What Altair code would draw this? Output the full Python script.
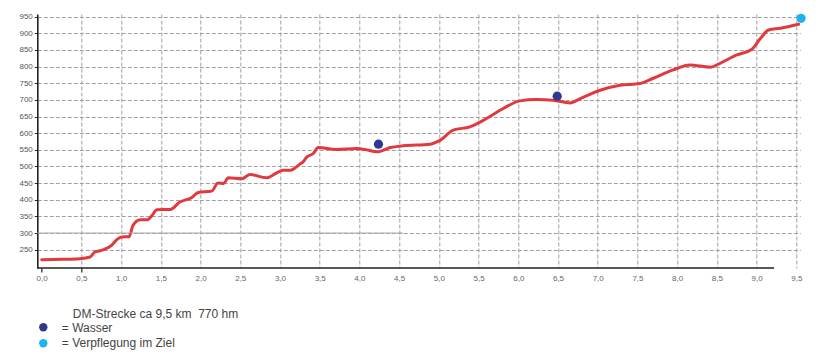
import altair as alt
import pandas as pd

# ---- data ----
km = [0.00, 0.25, 0.48, 0.61, 0.67, 0.72, 0.78, 0.88, 0.95, 1.01, 1.10, 1.15, 1.24, 1.33,
      1.38, 1.45, 1.62, 1.74, 1.89, 1.97, 2.14, 2.22, 2.29, 2.35, 2.52, 2.62, 2.83, 2.96,
      3.04, 3.13, 3.25, 3.29, 3.34, 3.42, 3.48, 3.71, 3.97, 4.07, 4.22, 4.39, 4.55, 4.89,
      5.02, 5.18, 5.39, 5.60, 5.81, 6.02, 6.23, 6.44, 6.65, 6.78, 7.03, 7.28, 7.53, 7.70,
      7.95, 8.16, 8.42, 8.54, 8.75, 8.94, 9.05, 9.15, 9.30, 9.53]
elev = [220, 221, 223, 228, 243, 246, 250, 263, 281, 288, 289, 323, 340, 340,
        350, 370, 371, 393, 407, 422, 426, 450, 449, 466, 463, 476, 466, 481,
        489, 489, 507, 514, 529, 539, 557, 551, 554, 551, 544, 557, 562, 567,
        579, 609, 619, 644, 674, 697, 701, 699, 691, 704, 729, 744, 749, 765,
        790, 805, 798, 810, 835, 852, 885, 910, 915, 927]

water_km = [4.24, 6.49]
water_elev = [567, 711]
finish_km = [9.56]
finish_elev = [945]

x_ticks = [0, 0.5, 1, 1.5, 2, 2.5, 3, 3.5, 4, 4.5, 5, 5.5, 6, 6.5, 7, 7.5, 8, 8.5, 9, 9.5]
y_ticks = [250, 300, 350, 400, 450, 500, 550, 600, 650, 700, 750, 800, 850, 900, 950]

ref_line_elev = [300]
ref_line_from = [-0.055]
ref_line_to = [4.55]
x_axis_from = [-0.055]
x_axis_end = [9.22]

legend_title = ["DM-Strecke ca 9,5 km\u00a0 770 hm"]
legend_water = ["= Wasser"]
legend_finish = ["= Verpflegung im Ziel"]

# ---- styling ----
RED = "#E0393E"
DARKBLUE = "#2E3A8F"
CYAN = "#1BB4EE"
FONT = "Liberation Sans"
W, H = 763, 254

xscale = alt.Scale(domain=[-0.055, 9.55], nice=False, zero=False)
yscale = alt.Scale(domain=[195, 958], nice=False, zero=False)

profile = pd.DataFrame({"km": km, "elev": elev})

xaxis = alt.Axis(
    values=x_ticks, tickCount=40, title=None, grid=True, gridColor="#a0a0a0", gridDash=[4, 2],
    gridWidth=1,
    gridOpacity={"condition": {"test": "datum.value == 0", "value": 0}, "value": 1},
    domain=False, tickColor="#222", tickSize=4, tickWidth=1.2,
    tickOpacity={"condition": {"test": "datum.value <= 0.5", "value": 1}, "value": 0},
    labelExpr="replace(format(datum.value, '.1f'), '.', ',')",
    labelFont=FONT, labelFontSize=8, labelColor="#666", labelPadding=2,
    labelOverlap=False, labelFlush=False,
)
yaxis = alt.Axis(
    values=y_ticks, tickCount=40, title=None, grid=True, gridColor="#a0a0a0", gridDash=[4, 2],
    gridWidth=1, domain=True, domainColor="#222", domainWidth=1.6,
    tickColor="#222", tickSize=3, labelFont=FONT, labelFontSize=8,
    labelColor="#555", labelPadding=2, labelOverlap=False, labelFlush=False,
)

line = alt.Chart(profile).mark_line(
    color=RED, strokeWidth=3, interpolate="monotone", strokeCap="round"
).encode(
    x=alt.X("km:Q", scale=xscale, axis=xaxis),
    y=alt.Y("elev:Q", scale=yscale, axis=yaxis),
)

ref = alt.Chart(pd.DataFrame({"a": ref_line_from, "b": ref_line_to, "y": ref_line_elev})).mark_rule(
    color="#a8a8a8", strokeWidth=1
).encode(
    x=alt.X("a:Q", scale=xscale), x2="b:Q", y=alt.Y("y:Q", scale=yscale)
)

xline = alt.Chart(pd.DataFrame({"s": x_axis_from, "e": x_axis_end})).mark_rule(
    color="#222", strokeWidth=1.6
).encode(
    x=alt.X("s:Q", scale=xscale), x2="e:Q", y=alt.value(H)
)

water = alt.Chart(pd.DataFrame({"km": water_km, "elev": water_elev})).mark_circle(
    color=DARKBLUE, opacity=1, size=85
).encode(x=alt.X("km:Q", scale=xscale), y=alt.Y("elev:Q", scale=yscale))

finish = alt.Chart(pd.DataFrame({"km": finish_km, "elev": finish_elev})).mark_circle(
    color=CYAN, opacity=1, size=85
).encode(x=alt.X("km:Q", scale=xscale), y=alt.Y("elev:Q", scale=yscale))

t1 = alt.Chart(pd.DataFrame({"t": legend_title})).mark_text(
    align="left", baseline="middle", font=FONT, fontSize=12, color="#444"
).encode(text="t:N", x=alt.value(35.5), y=alt.value(299.5))

t2 = alt.Chart(pd.DataFrame({"t": legend_water})).mark_text(
    align="left", baseline="middle", font=FONT, fontSize=12, color="#444"
).encode(text="t:N", x=alt.value(24.5), y=alt.value(313.5))

t3 = alt.Chart(pd.DataFrame({"t": legend_finish})).mark_text(
    align="left", baseline="middle", font=FONT, fontSize=12, color="#444"
).encode(text="t:N", x=alt.value(24.5), y=alt.value(328.5))

d1 = alt.Chart(pd.DataFrame({"t": legend_water})).mark_circle(
    color=DARKBLUE, opacity=1, size=70
).encode(x=alt.value(6), y=alt.value(313.3))

d2 = alt.Chart(pd.DataFrame({"t": legend_finish})).mark_circle(
    color=CYAN, opacity=1, size=70
).encode(x=alt.value(6), y=alt.value(329.3))

chart = alt.layer(line, ref, xline, water, finish, t1, t2, t3, d1, d2).properties(
    width=W, height=H,
    autosize=alt.AutoSizeParams(type="none"),
    padding={"left": 37.3, "top": 14, "right": 820 - 37.3 - W, "bottom": 360 - 14 - H},
    background="white",
).configure_view(stroke=None)

chart.save("out.html", embed_options={"renderer": "svg", "actions": False})
